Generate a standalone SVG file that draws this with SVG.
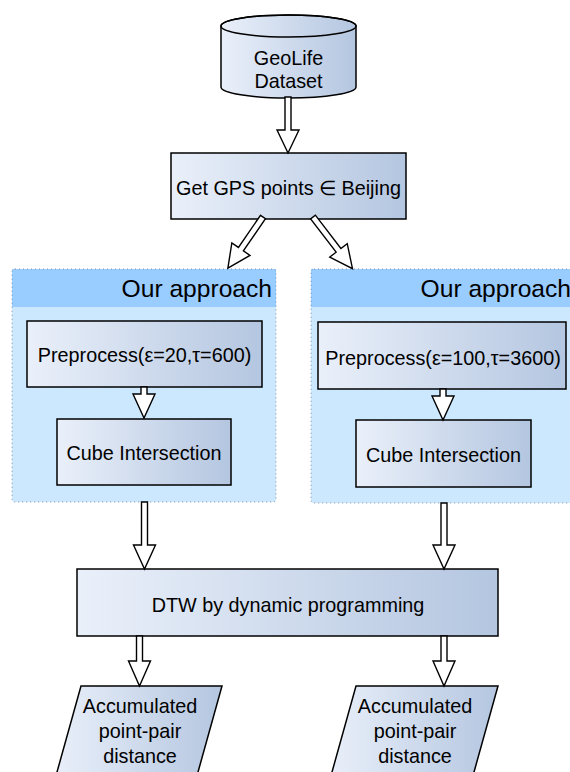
<svg xmlns="http://www.w3.org/2000/svg" width="570" height="772" viewBox="0 0 570 772">
<defs>
<linearGradient id="g" x1="0" y1="0" x2="1" y2="0">
<stop offset="0" stop-color="#EAF0FA"/>
<stop offset="1" stop-color="#B4C6E0"/>
</linearGradient>
<style>
.box{fill:url(#g);stroke:#000;stroke-width:1.5}
.t{font-family:"Liberation Sans",Arial,sans-serif;font-size:19.8px;fill:#000;text-anchor:middle}
.h{font-family:"Liberation Sans",Arial,sans-serif;font-size:24.6px;fill:#000;text-anchor:end}
.arr{fill:#fff;stroke:#000;stroke-width:1.4;stroke-linejoin:miter}
.body{fill:#CCE8FF}
.head{fill:#99CCFF}
.border{fill:none;stroke:#7F8FA6;stroke-width:1;stroke-dasharray:1 3}
</style>
</defs>
<rect width="570" height="772" fill="#fff"/>

<g id="container-left">
<rect class="body" x="12" y="269" width="264" height="233" rx="3"/>
<rect class="head" x="12" y="269" width="264" height="38"/>
<rect class="border" x="12" y="269" width="264" height="233" rx="3"/>
<text class="h" x="272" y="297">Our approach</text>
</g>
<g id="container-right">
<rect class="body" x="311" y="269" width="264" height="234" rx="3"/>
<rect class="head" x="311" y="269" width="264" height="38"/>
<rect class="border" x="311" y="269" width="264" height="234" rx="3"/>
<text class="h" x="571" y="297">Our approach</text>
</g>

<g id="geolife">
<path class="box" d="M221,26 L221,87 A67.5,11 0 0 0 356,87 L356,26 A67.5,11 0 0 0 221,26 Z"/>
<ellipse cx="288.5" cy="26" rx="67.5" ry="11" fill="none" stroke="#000" stroke-width="1.5"/>
<text class="t" x="288.5" y="65">GeoLife</text>
<text class="t" x="288.5" y="88">Dataset</text>
</g>

<g id="gps">
<rect class="box" x="171" y="153" width="235" height="66"/>
<text class="t" x="288.5" y="195">Get GPS points ∈ Beijing</text>
</g>

<g id="pre-left">
<rect class="box" x="27" y="321" width="235" height="66"/>
<text class="t" x="144.5" y="362">Preprocess(ε=20,τ=600)</text>
</g>
<g id="cube-left">
<rect class="box" x="57" y="419" width="174" height="66"/>
<text class="t" x="144" y="460">Cube Intersection</text>
</g>
<g id="pre-right">
<rect class="box" x="318" y="322" width="248" height="67"/>
<text class="t" x="443" y="365">Preprocess(ε=100,τ=3600)</text>
</g>
<g id="cube-right">
<rect class="box" x="356" y="420" width="175" height="67"/>
<text class="t" x="443.5" y="462">Cube Intersection</text>
</g>

<g id="dtw">
<rect class="box" x="77" y="569" width="421" height="67"/>
<text class="t" x="288" y="612">DTW by dynamic programming</text>
</g>

<g id="out-left">
<polygon class="box" points="81,686 222,686 193,790 52,790"/>
<text class="t" x="140" y="713">Accumulated</text>
<text class="t" x="140" y="738">point-pair</text>
<text class="t" x="140" y="763">distance</text>
</g>
<g id="out-right">
<polygon class="box" points="356,686 498,686 469,790 327,790"/>
<text class="t" x="415" y="713">Accumulated</text>
<text class="t" x="415" y="738">point-pair</text>
<text class="t" x="415" y="763">distance</text>
</g>

<g id="connectors">
<path class="arr" d="M285,97 L291,97 L291,130 L299,130 L288,153 L277,130 L285,130 Z"/>
<path class="arr" transform="translate(263,217) rotate(34.5)" d="M-3,0 L3,0 L3,39 L11,39 L0,62 L-11,39 L-3,39 Z"/>
<path class="arr" transform="translate(313,217) rotate(-37.4)" d="M-3,0 L3,0 L3,42 L11,42 L0,65 L-11,42 L-3,42 Z"/>
<path class="arr" d="M141,387 L147,387 L147,394 L155,394 L144,418 L133,394 L141,394 Z"/>
<path class="arr" d="M440,389 L446,389 L446,396 L454,396 L443,420 L432,396 L440,396 Z"/>
<path class="arr" d="M141.5,502 L147.5,502 L147.5,545 L155.5,545 L144.5,569 L133.5,545 L141.5,545 Z"/>
<path class="arr" d="M441,503 L447,503 L447,545 L455,545 L444,569 L433,545 L441,545 Z"/>
<path class="arr" d="M136.5,636 L142.5,636 L142.5,661 L150.5,661 L139.5,686 L128.5,661 L136.5,661 Z"/>
<path class="arr" d="M441,636 L447,636 L447,661 L455,661 L444,686 L433,661 L441,661 Z"/>
</g>
</svg>
